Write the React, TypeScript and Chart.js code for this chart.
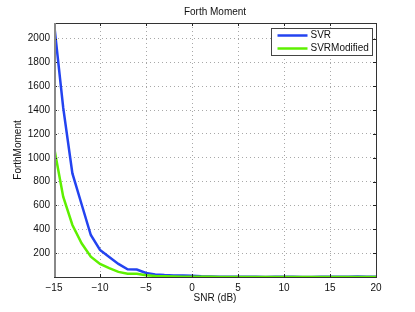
import React, { useEffect, useRef } from "react";
import { Chart, registerables } from "chart.js";

Chart.register(...registerables);

const snr = [-15, -14, -13, -12, -11, -10, -9, -8, -7, -6, -5, -4, -3, -2, -1, 0, 1, 2, 3, 4, 5, 6, 7, 8, 9, 10, 11, 12, 13, 14, 15, 16, 17, 18, 19, 20];
const svr = [2130, 1420, 869, 610, 352, 227, 168, 110, 65, 62, 34, 22, 16, 13, 12, 11, 6, 4, 3, 2, 3, 2, 2, 1, 2, 2, 2, 1, 1, 2, 3, 2, 3, 5, 3, 2];
const svrModified = [1090, 673, 436, 283, 171, 110, 74, 43, 28, 27, 15, 9, 6, 4, 3, 3, 2, 2, 1, 1, 1, 1, 1, 1, 1, 1, 1, 1, 1, 1, 1, 1, 1, 1, 1, 1];
const yTicks = [0, 200, 400, 600, 800, 1000, 1200, 1400, 1600, 1800, 2000];
const xTicks = [-15, -10, -5, 0, 5, 10, 15, 20];
const title = "Forth Moment";
const xTitle = "SNR (dB)";
const yTitle = "ForthMoment";
const seriesLabels = ["SVR", "SVRModified"];
const seriesColors = ["#2343f0", "#5ef000"];

const FONT = "'Liberation Sans', Arial, Helvetica, sans-serif";

const decorPlugin = {
  id: "decor",
  afterDraw(chart: any) {
    const ctx = chart.ctx;
    const { left, right, top, bottom } = chart.chartArea;
    const xs = chart.scales.x;
    const ys = chart.scales.y;
    ctx.save();
    // ticks inward
    ctx.strokeStyle = "#222";
    ctx.lineWidth = 1;
    const tl = 3;
    ctx.beginPath();
    for (const v of xTicks) {
      const px = Math.round(xs.getPixelForValue(v)) + 0.5;
      ctx.moveTo(px, bottom);
      ctx.lineTo(px, bottom - tl);
      ctx.moveTo(px, top);
      ctx.lineTo(px, top + tl);
    }
    for (const v of yTicks) {
      const py = Math.round(ys.getPixelForValue(v)) + 0.5;
      ctx.moveTo(left, py);
      ctx.lineTo(left + tl, py);
      ctx.moveTo(right, py);
      ctx.lineTo(right - tl, py);
    }
    ctx.stroke();
    // box
    ctx.strokeStyle = "#333";
    ctx.strokeRect(Math.round(left) + 0.5, Math.round(top) + 0.5, Math.round(right - left), Math.round(bottom - top));
    ctx.strokeStyle = "#888";
    ctx.lineWidth = 2;
    ctx.beginPath();
    ctx.moveTo(Math.round(left) + 1, top);
    ctx.lineTo(Math.round(left) + 1, bottom);
    ctx.stroke();

    // title
    ctx.fillStyle = "#111";
    ctx.font = `10px ${FONT}`;
    ctx.textAlign = "center";
    ctx.textBaseline = "middle";
    ctx.fillText(title, (left + right) / 2, 12);
    ctx.fillText(xTitle, (left + right) / 2, 298);
    ctx.save();
    ctx.translate(18, (top + bottom) / 2);
    ctx.rotate(-Math.PI / 2);
    ctx.fillText(yTitle, 0, 0);
    ctx.restore();

    // legend
    const bx = 271.5, by = 28.5, bw = 101, bh = 27;
    ctx.fillStyle = "#fff";
    ctx.fillRect(bx, by, bw, bh);
    ctx.strokeStyle = "#444";
    ctx.lineWidth = 1;
    ctx.strokeRect(bx, by, bw, bh);
    ctx.textAlign = "left";
    const rows = [35.5, 48.5];
    seriesLabels.forEach((lab, i) => {
      ctx.strokeStyle = seriesColors[i];
      ctx.lineWidth = 2.5;
      ctx.beginPath();
      ctx.moveTo(277.5, rows[i]);
      ctx.lineTo(307.5, rows[i]);
      ctx.stroke();
      ctx.fillStyle = "#111";
      ctx.fillText(lab, 310.5, rows[i]);
    });
    ctx.restore();
  },
};

export default function App() {
  const ref = useRef<HTMLCanvasElement | null>(null);
  useEffect(() => {
    document.body.style.margin = "0";
    const canvas = ref.current;
    if (!canvas) return;
    const tickFont = { family: FONT, size: 10 };
    const chart = new Chart(canvas, {
      type: "line",
      data: {
        labels: snr,
        datasets: [
          {
            label: seriesLabels[0],
            data: snr.map((x, i) => ({ x, y: svr[i] })),
            borderColor: seriesColors[0],
            backgroundColor: seriesColors[0],
            borderWidth: 2.5,
            pointRadius: 0,
            tension: 0,
            order: 1,
          },
          {
            label: seriesLabels[1],
            data: snr.map((x, i) => ({ x, y: svrModified[i] })),
            borderColor: seriesColors[1],
            backgroundColor: seriesColors[1],
            borderWidth: 2.5,
            pointRadius: 0,
            tension: 0,
            order: 0,
          },
        ],
      },
      options: {
        responsive: false,
        animation: false,
        devicePixelRatio: 1,
        layout: { padding: { left: 0, right: 39, top: 23, bottom: 0 } },
        plugins: {
          legend: { display: false },
          title: { display: false },
          tooltip: { enabled: false },
        },
        scales: {
          x: {
            type: "linear",
            min: -15,
            max: 20,
            afterBuildTicks: (s: any) => {
              s.ticks = xTicks.map((v) => ({ value: v }));
            },
            afterFit: (s: any) => {
              s.height = 35;
            },
            grid: { color: "#a8a8a8", borderDash: [1, 3], drawTicks: false } as any,
            border: { display: false, dash: [1, 3] },
            ticks: {
              font: tickFont,
              color: "#111",
              padding: 5,
              maxRotation: 0,
              callback: (v: any) => (v < 0 ? "\u2212" + Math.abs(v) : String(v)),
            },
          },
          y: {
            type: "linear",
            min: 0,
            max: 2130,
            afterBuildTicks: (s: any) => {
              s.ticks = yTicks.map((v) => ({ value: v }));
            },
            afterFit: (s: any) => {
              s.width = 54;
            },
            grid: { color: "#a8a8a8", drawTicks: false } as any,
            border: { display: false, dash: [1, 3] },
            ticks: {
              font: tickFont,
              color: "#111",
              padding: 4,
              callback: (v: any) => (v === 0 ? "" : String(v)),
            },
          },
        },
      },
      plugins: [decorPlugin],
    });
    return () => chart.destroy();
  }, []);
  return (
    <div style={{ position: "relative", width: 415, height: 312, background: "#fff" }}>
      <canvas ref={ref} width={415} height={312} />
    </div>
  );
}
